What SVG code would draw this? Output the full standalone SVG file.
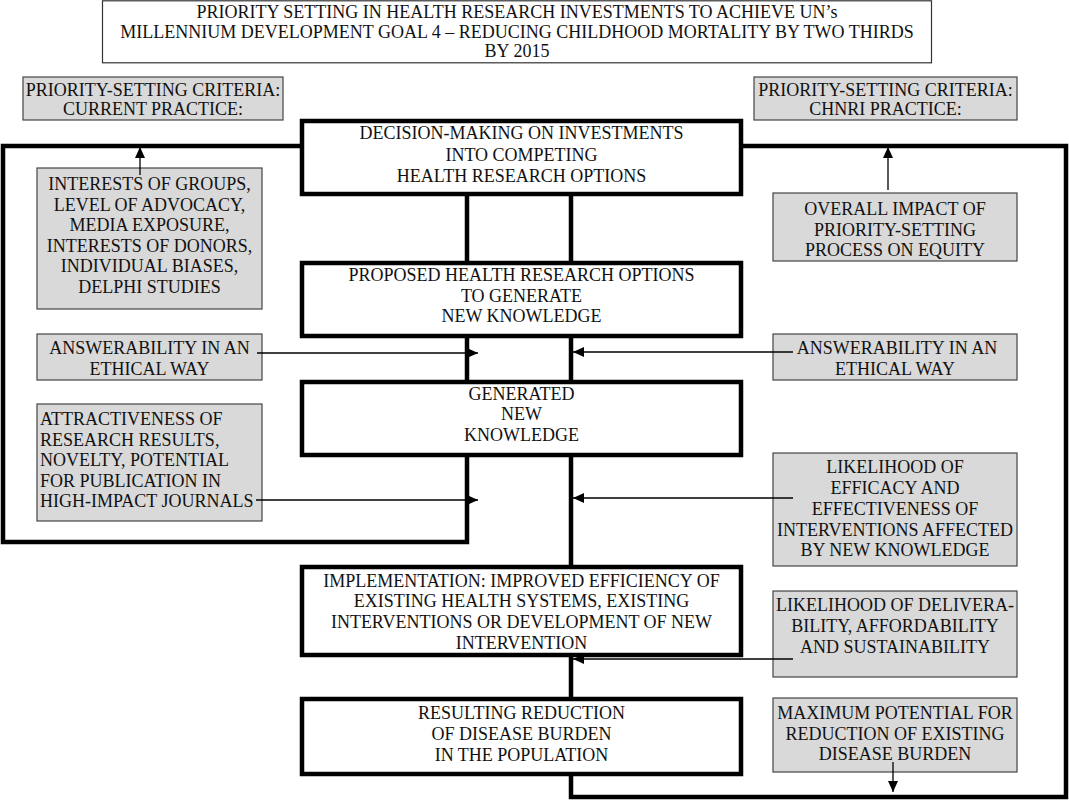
<svg xmlns="http://www.w3.org/2000/svg" width="1069" height="800" viewBox="0 0 1069 800">
<style>
text{font-family:"Liberation Serif","Times New Roman",serif;font-size:18px;fill:#111;text-anchor:middle}
.l{text-anchor:start}
.gray{fill:#d9d9d9;stroke:#444;stroke-width:1.2}
.title{fill:#fff;stroke:#333;stroke-width:1.2}
.main{fill:#fff;stroke:#000;stroke-width:4.5}
.thick{fill:none;stroke:#000;stroke-width:4.5;stroke-linejoin:miter}
.thin{fill:none;stroke:#000;stroke-width:1.3}
</style>
<defs>
<marker id="ah" markerUnits="userSpaceOnUse" markerWidth="12" markerHeight="12" viewBox="0 0 12 12" refX="11" refY="6" orient="auto">
<path d="M0,1 L11,6 L0,11 Z" fill="#000"/>
</marker>
</defs>
<rect width="1069" height="800" fill="#fff"/>

<g id="loops">
<polyline class="thick" points="302,146 3,146 3,542 467,542 467,455"/>
<polyline class="thick" points="741,146 1066,146 1066,797 571,797 571,774"/>
<line class="thick" x1="467" y1="194" x2="467" y2="263"/>
<line class="thick" x1="571" y1="194" x2="571" y2="263"/>
<line class="thick" x1="467" y1="336" x2="467" y2="382"/>
<line class="thick" x1="571" y1="336" x2="571" y2="382"/>
<line class="thick" x1="571" y1="455" x2="571" y2="567"/>
<line class="thick" x1="571" y1="655" x2="571" y2="699"/>
</g>

<g id="title">
<rect class="title" x="102.5" y="0.8" width="829" height="62"/>
<text x="517" y="18">PRIORITY SETTING IN HEALTH RESEARCH INVESTMENTS TO ACHIEVE UN’s</text>
<text x="517" y="38">MILLENNIUM DEVELOPMENT GOAL 4 – REDUCING CHILDHOOD MORTALITY BY TWO THIRDS</text>
<text x="517" y="57">BY 2015</text>
</g>

<g id="current-practice">
<rect class="gray" x="23" y="77" width="260" height="43"/>
<text x="153" y="96">PRIORITY-SETTING CRITERIA:</text>
<text x="153" y="115">CURRENT PRACTICE:</text>
</g>

<g id="chnri-practice">
<rect class="gray" x="754" y="77" width="263" height="43"/>
<text x="885.5" y="96">PRIORITY-SETTING CRITERIA:</text>
<text x="885.5" y="115">CHNRI PRACTICE:</text>
</g>

<g id="decision">
<rect class="main" x="302" y="121" width="439" height="73"/>
<text x="521.5" y="139">DECISION-MAKING ON INVESTMENTS</text>
<text x="521.5" y="160.5">INTO COMPETING</text>
<text x="521.5" y="182">HEALTH RESEARCH OPTIONS</text>
</g>

<g id="proposed">
<rect class="main" x="302" y="263" width="439" height="73"/>
<text x="521.5" y="281">PROPOSED HEALTH RESEARCH OPTIONS</text>
<text x="521.5" y="301.5">TO GENERATE</text>
<text x="521.5" y="322">NEW KNOWLEDGE</text>
</g>

<g id="generated">
<rect class="main" x="302" y="382" width="439" height="73"/>
<text x="521.5" y="399.5">GENERATED</text>
<text x="521.5" y="420">NEW</text>
<text x="521.5" y="440.5">KNOWLEDGE</text>
</g>

<g id="implementation">
<rect class="main" x="302" y="567" width="439" height="88"/>
<text x="521.5" y="586.5">IMPLEMENTATION: IMPROVED EFFICIENCY OF</text>
<text x="521.5" y="607">EXISTING HEALTH SYSTEMS, EXISTING</text>
<text x="521.5" y="628">INTERVENTIONS OR DEVELOPMENT OF NEW</text>
<text x="521.5" y="648.5">INTERVENTION</text>
</g>

<g id="resulting">
<rect class="main" x="302" y="699" width="439" height="75"/>
<text x="521.5" y="719">RESULTING REDUCTION</text>
<text x="521.5" y="740">OF DISEASE BURDEN</text>
<text x="521.5" y="760.5">IN THE POPULATION</text>
</g>

<g id="interests">
<rect class="gray" x="37" y="168" width="225" height="141"/>
<text x="149.5" y="190">INTERESTS OF GROUPS,</text>
<text x="149.5" y="210.5">LEVEL OF ADVOCACY,</text>
<text x="149.5" y="231">MEDIA EXPOSURE,</text>
<text x="149.5" y="251.5">INTERESTS OF DONORS,</text>
<text x="149.5" y="272">INDIVIDUAL BIASES,</text>
<text x="149.5" y="292.5">DELPHI STUDIES</text>
</g>

<g id="answerability-left">
<rect class="gray" x="37" y="334" width="225" height="46"/>
<text x="149.5" y="354">ANSWERABILITY IN AN</text>
<text x="149.5" y="374.5">ETHICAL WAY</text>
</g>

<g id="attractiveness">
<rect class="gray" x="37" y="404" width="225" height="117"/>
<text class="l" x="40" y="425">ATTRACTIVENESS OF</text>
<text class="l" x="40" y="445.5">RESEARCH RESULTS,</text>
<text class="l" x="40" y="466">NOVELTY, POTENTIAL</text>
<text class="l" x="40" y="486.5">FOR PUBLICATION IN</text>
<text class="l" x="40" y="507">HIGH-IMPACT JOURNALS</text>
</g>

<g id="overall-impact">
<rect class="gray" x="773" y="193" width="244" height="68"/>
<text x="895" y="215">OVERALL IMPACT OF</text>
<text x="895" y="235.5">PRIORITY-SETTING</text>
<text x="895" y="256">PROCESS ON EQUITY</text>
</g>

<g id="answerability-right">
<rect class="gray" x="773" y="334" width="244" height="46"/>
<text x="897" y="354">ANSWERABILITY IN AN</text>
<text x="895" y="374.5">ETHICAL WAY</text>
</g>

<g id="efficacy">
<rect class="gray" x="773" y="453" width="244" height="113"/>
<text x="895" y="473">LIKELIHOOD OF</text>
<text x="895" y="494">EFFICACY AND</text>
<text x="895" y="515">EFFECTIVENESS OF</text>
<text x="895" y="535.5">INTERVENTIONS AFFECTED</text>
<text x="895" y="556">BY NEW KNOWLEDGE</text>
</g>

<g id="deliverability">
<rect class="gray" x="773" y="591" width="244" height="86"/>
<text x="895" y="611">LIKELIHOOD OF DELIVERA-</text>
<text x="895" y="632">BILITY, AFFORDABILITY</text>
<text x="895" y="652.5">AND SUSTAINABILITY</text>
</g>

<g id="maximum-potential">
<rect class="gray" x="773" y="698" width="244" height="74"/>
<text x="895" y="719">MAXIMUM POTENTIAL FOR</text>
<text x="895" y="740">REDUCTION OF EXISTING</text>
<text x="895" y="760">DISEASE BURDEN</text>
</g>

<g id="connectors">
<line class="thin" x1="140" y1="175" x2="140" y2="147" marker-end="url(#ah)"/>
<line class="thin" x1="888" y1="190" x2="888" y2="147" marker-end="url(#ah)"/>
<line class="thin" x1="257" y1="353" x2="478" y2="353" marker-end="url(#ah)"/>
<line class="thin" x1="256" y1="500" x2="478" y2="500" marker-end="url(#ah)"/>
<line class="thin" x1="793" y1="352" x2="573" y2="352" marker-end="url(#ah)"/>
<line class="thin" x1="793" y1="498" x2="573" y2="498" marker-end="url(#ah)"/>
<line class="thin" x1="793" y1="659" x2="573" y2="659" marker-end="url(#ah)"/>
<line class="thin" x1="893" y1="762" x2="893" y2="792" marker-end="url(#ah)"/>
</g>
</svg>
